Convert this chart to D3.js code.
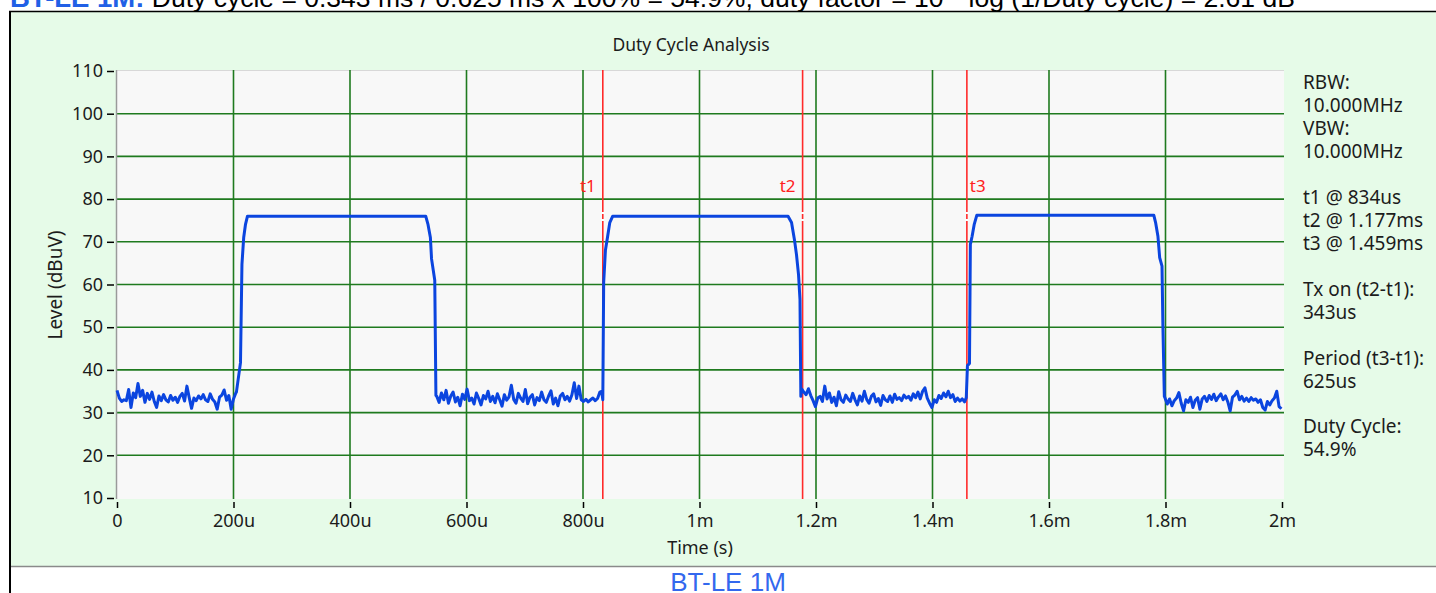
<!DOCTYPE html>
<html><head><meta charset="utf-8">
<script src="https://cdn.jsdelivr.net/npm/d3@7"></script>
<style>
html,body{margin:0;padding:0;background:#fff;overflow:hidden}
svg{display:block}
</style></head><body>
<svg id="c" width="1436" height="593"></svg>
<script>
// ---------------- data ----------------
const headerBold = "BT-LE 1M:";
const headerText = " Duty cycle = 0.343 ms / 0.625 ms x 100% = 54.9%, duty factor = 10 * log (1/Duty cycle) = 2.61 dB";
const captionText = "BT-LE 1M";
const chartTitle = "Duty Cycle Analysis";
const xAxisTitle = "Time (s)";
const yAxisTitle = "Level (dBuV)";

const yTicks = [10, 20, 30, 40, 50, 60, 70, 80, 90, 100, 110];
const yGrid = [20, 30, 40, 50, 60, 70, 80, 90, 100];
const xTicks = [0, 200, 400, 600, 800, 1000, 1200, 1400, 1600, 1800, 2000]; // µs
const xTickLabels = ["0", "200u", "400u", "600u", "800u", "1m", "1.2m", "1.4m", "1.6m", "1.8m", "2m"];
const xGrid = [200, 400, 600, 800, 1000, 1200, 1400, 1600, 1800];

const cursorNames = ["t1", "t2", "t3"];
const cursorTimes = [834, 1177, 1459]; // µs

const infoLines = ["RBW:", "10.000MHz", "VBW:", "10.000MHz", "",
  "t1 @ 834us", "t2 @ 1.177ms", "t3 @ 1.459ms", "",
  "Tx on (t2-t1):", "343us", "",
  "Period (t3-t1):", "625us", "",
  "Duty Cycle:", "54.9%"];

// noise floor segments: start time (µs), sample step (µs), levels (dBuV)
const floorStep = 4;
const floor1Start = 0;
const floor1 = [35.2,33.4,32.6,33.0,32.8,35.4,31.2,34.6,33.5,36.8,33.8,35.2,32.4,34.5,33.1,34.8,32.6,31.2,33.9,32.8,
  34.2,33.0,32.5,34.0,32.9,33.6,32.4,33.8,34.5,32.7,36.2,33.5,31.0,33.4,32.8,33.9,33.2,34.2,33.0,32.6,
  34.4,33.1,32.5,30.8,33.6,34.1,35.3,32.9,34.0,30.8,33.2,34.6];
const floor2Start = 549;
const floor2 = [33.8,32.4,34.6,33.0,35.2,32.2,33.9,34.8,32.5,33.6,31.6,34.3,33.1,35.5,32.8,33.4,32.0,34.6,33.3,31.8,
  34.0,33.2,35.0,32.6,33.8,32.3,34.4,33.0,31.5,34.2,32.9,33.7,36.4,33.1,32.2,34.5,33.4,32.6,35.4,32.1,
  33.6,34.2,31.8,33.5,32.8,34.8,33.0,32.4,33.9,35.1,32.0,33.4,31.6,33.9,34.5,33.0,33.8,32.7,34.2,37.0,
  33.3,36.2,33.0,32.6,33.1,32.5,33.0,33.4,32.8,33.3,34.8];
const floor3Start = 1175;
const floor3 = [35.6,34.8,34.2,35.6,34.0,32.8,31.4,33.4,33.8,32.6,36.2,33.2,34.6,32.4,33.6,31.6,34.9,33.0,32.4,34.1,
  33.2,32.6,34.5,33.0,31.8,33.9,32.7,35.0,33.1,32.2,33.8,34.4,32.5,33.3,31.7,34.0,33.0,32.6,33.9,32.4,
  34.3,33.1,33.5,32.8,34.1,33.4,33.8,32.9,34.4,33.5,34.8,33.2,35.0,35.8,33.4,32.2,31.2,33.0,32.4,34.0,
  33.3,34.6,33.7,35.0,33.5,34.2,32.6,33.4,32.7,33.2,32.5];
const floor4Start = 1799;
const floor4 = [33.5,32.0,33.2,31.6,32.8,33.4,34.7,32.2,30.4,33.0,32.4,33.6,31.2,32.9,33.5,30.8,33.2,33.8,32.6,34.0,
  33.1,34.3,32.8,33.7,34.4,33.0,33.9,32.5,30.4,33.6,34.1,35.0,33.0,33.8,32.7,33.4,32.6,33.5,32.9,33.2,
  32.4,33.0,31.2,30.6,32.6,31.8,32.8,33.4,35.0,31.4,30.9];

// pulse edges and plateaus: [time µs, level dBuV]
const pulse1 = [[205,34.8],[212,41.7],[214.5,64.7],[217.5,71],[220.5,74],[224,76],[530,76],[534,74],[538,71],[540,66],[545.5,61],[547.5,34]];
const pulse2 = [[832,35],[834,33],[835.5,60.5],[838.5,68],[842,71],[846,74.5],[851,76],[1152,76],[1158,74.5],[1163,70.5],[1166.5,67],[1170,62.3],[1172.5,56.5],[1174,33.8]];
const pulse3 = [[1458,33.5],[1460,41],[1463.5,41.5],[1465,69.4],[1468,71.3],[1471.5,74],[1476,76.2],[1780,76.2],[1783,74.5],[1787,71.3],[1790,66.3],[1794,64.3],[1795.5,50.6],[1798,33.8]];

// ---------------- build ----------------
const floorPts = (start, arr) => arr.map((v, i) => [start + i * floorStep, v]);
const trace = [].concat(
  floorPts(floor1Start, floor1), pulse1,
  floorPts(floor2Start, floor2), pulse2,
  floorPts(floor3Start, floor3), pulse3,
  floorPts(floor4Start, floor4));

const svg = d3.select("#c");
const chartFont = "'Noto Sans', 'Open Sans', sans-serif";
const txtCol = "#1c1c1c";

// header (clipped at the top of the page)
const hdr = svg.append("text").attr("x", 10).attr("y", 7)
  .style("font-family", "'Liberation Sans', Arial, sans-serif").style("font-size", "26.5px");
hdr.append("tspan").text(headerBold).style("font-weight", "bold").style("font-size", "27.5px").attr("fill", "#2160e6");
hdr.append("tspan").text(headerText).attr("fill", "#000");

// outer table cell border
svg.append("rect").attr("x", 11).attr("y", 12).attr("width", 1430).attr("height", 554).attr("fill", "#e6fbe8");
svg.append("line").attr("x1", 11).attr("x2", 1436).attr("y1", 566.5).attr("y2", 566.5).attr("stroke", "#8a8a8a").attr("stroke-width", 1.5);
svg.append("line").attr("x1", 9).attr("x2", 1436).attr("y1", 11.5).attr("y2", 11.5).attr("stroke", "#000").attr("stroke-width", 1.5);
svg.append("line").attr("x1", 10).attr("x2", 10).attr("y1", 11).attr("y2", 593).attr("stroke", "#000").attr("stroke-width", 2);

// caption
svg.append("text").attr("x", 728).attr("y", 591).attr("text-anchor", "middle")
  .style("font-family", "'Liberation Sans', Arial, sans-serif").style("font-size", "26px")
  .attr("fill", "#3368ee").text(captionText);

// scales
const x = d3.scaleLinear().domain([0, 2000]).range([117, 1282]);
const y = d3.scaleLinear().domain([10, 110]).range([498, 71]);

// plot background
svg.append("rect").attr("x", x(0)).attr("y", y(110) - 1).attr("width", x(2000) - x(0) + 2).attr("height", y(10) - y(110) + 2)
  .attr("fill", "#f8f8f8");
svg.append("line").attr("x1", x(0)).attr("x2", x(2000) + 2).attr("y1", y(110) - 0.5).attr("y2", y(110) - 0.5)
  .attr("stroke", "#d8d8d8").attr("stroke-width", 1);

// grid
const grid = svg.append("g").attr("stroke", "#1f7a1f").attr("stroke-width", 1.6);
grid.selectAll("line.h").data(yGrid).join("line").attr("class", "h")
  .attr("x1", x(0)).attr("x2", x(2000) + 2).attr("y1", d => y(d)).attr("y2", d => y(d));
grid.selectAll("line.v").data(xGrid).join("line").attr("class", "v")
  .attr("x1", d => x(d)).attr("x2", d => x(d)).attr("y1", y(110) - 1).attr("y2", y(10) + 1);

// y axis
const yAxis = svg.append("g").attr("transform", "translate(114,0)")
  .call(d3.axisLeft(y).tickValues(yTicks).tickSize(7).tickPadding(4).tickFormat(d3.format("d")));
yAxis.select(".domain").remove();
yAxis.selectAll(".tick line").attr("stroke", "#000").attr("stroke-width", 1.5);
yAxis.selectAll("text").style("font-family", chartFont).style("font-size", "18px").attr("fill", txtCol);
svg.append("line").attr("x1", 116.5).attr("x2", 116.5).attr("y1", y(110) - 1).attr("y2", y(10) + 1)
  .attr("stroke", "#9a9a9a").attr("stroke-width", 1.5);

// x axis
const xAxis = svg.append("g").attr("transform", "translate(0,502)")
  .call(d3.axisBottom(x).tickValues(xTicks).tickSize(6).tickPadding(6).tickFormat((d, i) => xTickLabels[i]));
xAxis.select(".domain").remove();
xAxis.selectAll(".tick line").attr("stroke", "#000").attr("stroke-width", 1.5);
xAxis.selectAll("text").style("font-family", chartFont).style("font-size", "18px").attr("fill", txtCol);

// titles
svg.append("text").attr("x", 691).attr("y", 45).attr("dy", "0.35em").attr("text-anchor", "middle")
  .style("font-family", chartFont).style("font-size", "17.5px").attr("fill", txtCol).text(chartTitle);
svg.append("text").attr("x", 700).attr("y", 548).attr("dy", "0.35em").attr("text-anchor", "middle")
  .style("font-family", chartFont).style("font-size", "18px").attr("fill", txtCol).text(xAxisTitle);
svg.append("text").attr("transform", "translate(55,285) rotate(-90)").attr("dy", "0.35em").attr("text-anchor", "middle")
  .style("font-family", chartFont).style("font-size", "19px").attr("fill", txtCol).text(yAxisTitle);

// cursors
const cur = svg.append("g");
cursorTimes.forEach((t, i) => {
  const cx = x(t);
  cur.append("line").attr("x1", cx).attr("x2", cx).attr("y1", y(110) - 1).attr("y2", y(10) + 1)
    .attr("stroke", "#ff2a2a").attr("stroke-width", 1.6);
  const right = i === 2;
  cur.append("text").attr("x", right ? cx + 3 : cx - 7).attr("y", 186).attr("dy", "0.35em")
    .attr("text-anchor", right ? "start" : "end")
    .style("font-family", chartFont).style("font-size", "17px").attr("fill", "#ff2020").text(cursorNames[i]);
});

// trace
svg.append("path").datum(trace)
  .attr("d", d3.line().x(d => x(d[0])).y(d => y(d[1])))
  .attr("fill", "none").attr("stroke", "#0b45df").attr("stroke-width", 3).attr("stroke-linejoin", "round");

// cursor marker gaps
cursorTimes.forEach(t => {
  [212, 219].forEach(yy => {
    svg.append("rect").attr("x", x(t) - 1.5).attr("y", yy).attr("width", 3).attr("height", 2).attr("fill", "#fff");
  });
});

// info panel
svg.append("g").selectAll("text").data(infoLines).join("text")
  .attr("x", 1303).attr("y", (d, i) => 82.5 + i * 22.95).attr("dy", "0.35em")
  .style("font-family", chartFont).style("font-size", "19px").attr("fill", txtCol).text(d => d);
</script>
</body></html>
